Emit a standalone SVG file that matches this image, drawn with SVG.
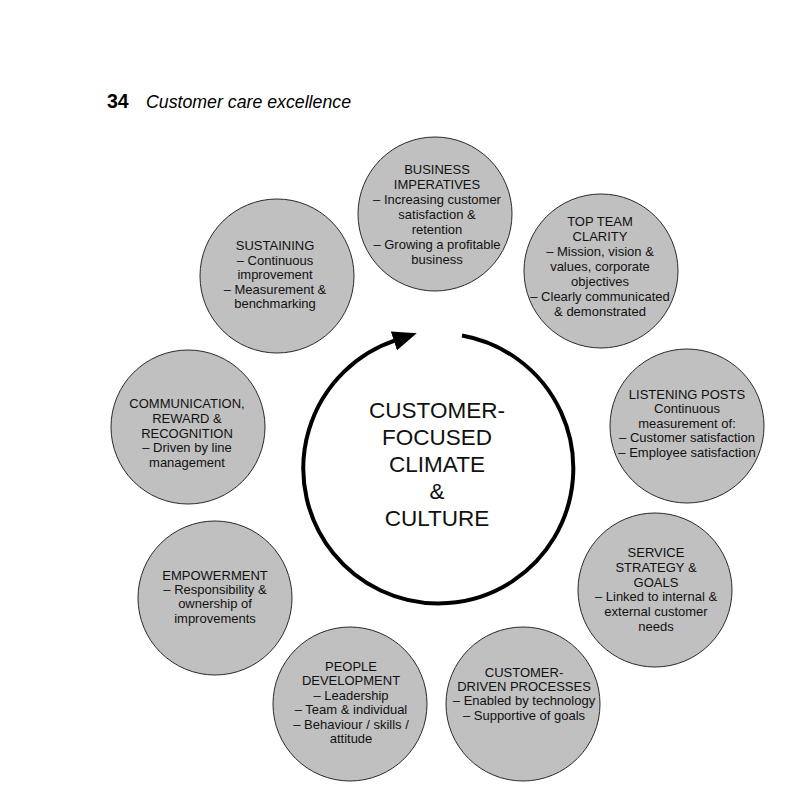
<svg xmlns="http://www.w3.org/2000/svg" width="790" height="795" viewBox="0 0 790 795">
<defs>
<style>
.node circle{fill:#c0c0c0;stroke:#2a2a2a;stroke-width:1}
.node text{font-family:"Liberation Sans",Arial,sans-serif;font-size:13px;fill:#111;text-anchor:middle}
.center text{font-family:"Liberation Sans",Arial,sans-serif;font-size:22.5px;fill:#111;text-anchor:middle}
.ring{fill:none;stroke:#000;stroke-width:4}
</style>
<marker id="arrow" markerUnits="userSpaceOnUse" markerWidth="24" markerHeight="22" viewBox="0 0 22 20" refX="2" refY="10" orient="auto">
<path d="M0,1 L22,10 L0,19 Z" fill="#000"/>
</marker>
</defs>
<rect width="790" height="795" fill="#fff"/>
<g id="header">
<text x="107" y="108" font-family="Liberation Sans, Arial, sans-serif" font-weight="bold" font-size="19.5" fill="#000">34</text>
<text x="146" y="108" font-family="Liberation Sans, Arial, sans-serif" font-style="italic" font-size="17.5" textLength="205" lengthAdjust="spacingAndGlyphs" fill="#000">Customer care excellence</text>
</g>
<g id="connectors">
<path class="ring" d="M462,335.5 A135,135 0 1 1 396,340.2" marker-end="url(#arrow)"/>
</g>
<g id="center" class="center">
<text x="437" y="418">CUSTOMER-</text>
<text x="437" y="445">FOCUSED</text>
<text x="437" y="472">CLIMATE</text>
<text x="437" y="499">&amp;</text>
<text x="437" y="526">CULTURE</text>
</g>
<g id="business" class="node">
<circle cx="435" cy="214" r="77"/>
<text x="437" y="174">BUSINESS<tspan x="437" dy="15">IMPERATIVES</tspan><tspan x="437" dy="15">– Increasing customer</tspan><tspan x="437" dy="15">satisfaction &amp;</tspan><tspan x="437" dy="15">retention</tspan><tspan x="437" dy="15">– Growing a profitable</tspan><tspan x="437" dy="15">business</tspan></text>
</g>
<g id="topteam" class="node">
<circle cx="601" cy="271" r="77"/>
<text x="600" y="226">TOP TEAM<tspan x="600" dy="15">CLARITY</tspan><tspan x="600" dy="15">– Mission, vision &amp;</tspan><tspan x="600" dy="15">values, corporate</tspan><tspan x="600" dy="15">objectives</tspan><tspan x="600" dy="15">– Clearly communicated</tspan><tspan x="600" dy="15">&amp; demonstrated</tspan></text>
</g>
<g id="sustaining" class="node">
<circle cx="277" cy="276" r="77"/>
<text x="275" y="250">SUSTAINING<tspan x="275" dy="14.6">– Continuous</tspan><tspan x="275" dy="14.6">improvement</tspan><tspan x="275" dy="14.6">– Measurement &amp;</tspan><tspan x="275" dy="14.6">benchmarking</tspan></text>
</g>
<g id="communication" class="node">
<circle cx="188" cy="427" r="77"/>
<text x="187" y="408">COMMUNICATION,<tspan x="187" dy="14.8">REWARD &amp;</tspan><tspan x="187" dy="14.8">RECOGNITION</tspan><tspan x="187" dy="14.8">– Driven by line</tspan><tspan x="187" dy="14.8">management</tspan></text>
</g>
<g id="listening" class="node">
<circle cx="687" cy="426" r="77"/>
<text x="687" y="399">LISTENING POSTS<tspan x="687" dy="14.4">Continuous</tspan><tspan x="687" dy="14.4">measurement of:</tspan><tspan x="687" dy="14.4">– Customer satisfaction</tspan><tspan x="687" dy="14.4">– Employee satisfaction</tspan></text>
</g>
<g id="empowerment" class="node">
<circle cx="215" cy="598" r="77"/>
<text x="215" y="580">EMPOWERMENT<tspan x="215" dy="14.2">– Responsibility &amp;</tspan><tspan x="215" dy="14.2">ownership of</tspan><tspan x="215" dy="14.2">improvements</tspan></text>
</g>
<g id="service" class="node">
<circle cx="655" cy="590" r="77"/>
<text x="656" y="557">SERVICE<tspan x="656" dy="14.8">STRATEGY &amp;</tspan><tspan x="656" dy="14.8">GOALS</tspan><tspan x="656" dy="14.8">– Linked to internal &amp;</tspan><tspan x="656" dy="14.8">external customer</tspan><tspan x="656" dy="14.8">needs</tspan></text>
</g>
<g id="people" class="node">
<circle cx="350" cy="704" r="77"/>
<text x="351" y="671">PEOPLE<tspan x="351" dy="14.4">DEVELOPMENT</tspan><tspan x="351" dy="14.4">– Leadership</tspan><tspan x="351" dy="14.4">– Team &amp; individual</tspan><tspan x="351" dy="14.4">– Behaviour / skills /</tspan><tspan x="351" dy="14.4">attitude</tspan></text>
</g>
<g id="customerdriven" class="node">
<circle cx="523" cy="704" r="77"/>
<text x="524" y="677">CUSTOMER-<tspan x="524" dy="14.2">DRIVEN PROCESSES</tspan><tspan x="524" dy="14.2">– Enabled by technology</tspan><tspan x="524" dy="14.2">– Supportive of goals</tspan></text>
</g>
</svg>
